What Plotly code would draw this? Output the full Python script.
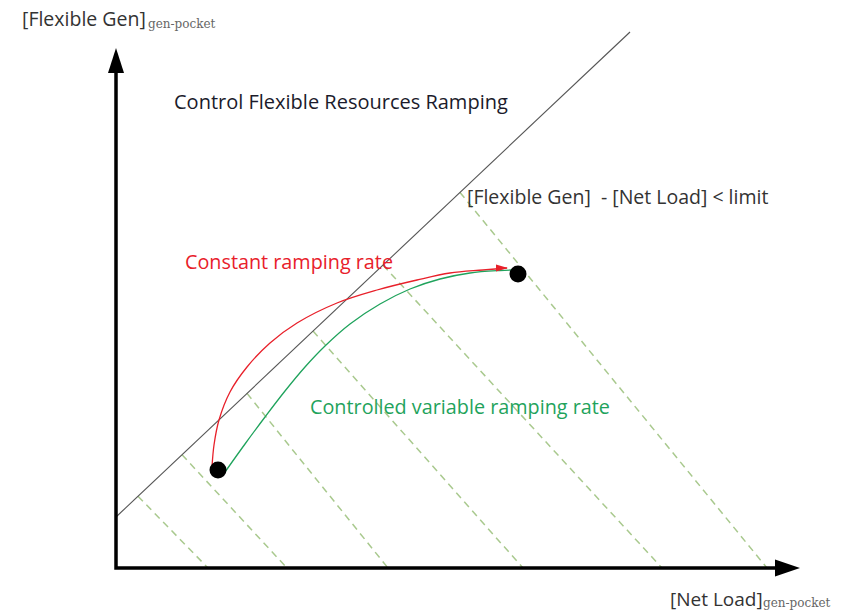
import plotly.graph_objects as go

# ---- data (arbitrary units: Net Load on x, Flexible Gen on y) ----
x_axis_end = 6.84
y_axis_end = 5.20

diag_x = [0.0, 5.14]
diag_y = [0.51, 5.36]

dash_start_x = [0.22, 0.66, 1.31, 1.97, 2.67, 3.44]
dash_end_x = [0.92, 1.71, 2.72, 4.07, 5.46, 6.51]

red_x = [0.96, 0.98, 1.03, 1.14, 1.31, 1.54, 1.81, 2.21, 2.61, 3.01, 3.34, 3.67, 3.91]
red_y = [1.01, 1.23, 1.48, 1.76, 2.01, 2.25, 2.45, 2.65, 2.78, 2.88, 2.95, 2.98, 3.00]

green_x = [1.09, 1.29, 1.49, 1.69, 1.89, 2.09, 2.34, 2.64, 2.94, 3.24, 3.54, 3.84, 3.96]
green_y = [0.96, 1.24, 1.51, 1.77, 2.01, 2.22, 2.44, 2.64, 2.79, 2.89, 2.95, 2.975, 2.98]

dot_x = [1.02, 4.02]
dot_y = [0.98, 2.94]

# ---- figure ----
fig = go.Figure()

slope = (diag_y[1] - diag_y[0]) / (diag_x[1] - diag_x[0])
for sx, ex in zip(dash_start_x, dash_end_x):
    sy = diag_y[0] + slope * sx
    fig.add_trace(go.Scatter(x=[sx, ex], y=[sy, 0], mode="lines",
                             line=dict(color="#a9c98e", width=1.5, dash="7px,5px"),
                             hoverinfo="skip"))

fig.add_trace(go.Scatter(x=diag_x, y=diag_y, mode="lines",
                         line=dict(color="#555555", width=1.1), hoverinfo="skip"))

fig.add_trace(go.Scatter(x=red_x, y=red_y, mode="lines", line_shape="spline",
                         line=dict(color="#e8202a", width=1.3), hoverinfo="skip"))
fig.add_trace(go.Scatter(x=green_x, y=green_y, mode="lines", line_shape="spline",
                         line=dict(color="#1fa35c", width=1.3), hoverinfo="skip"))

fig.add_trace(go.Scatter(x=dot_x, y=dot_y, mode="markers",
                         marker=dict(color="black", size=17), hoverinfo="skip"))

# axes lines
fig.add_trace(go.Scatter(x=[0, 0, x_axis_end - 0.2], y=[y_axis_end - 0.2, 0, 0], mode="lines",
                         line=dict(color="black", width=3.5), hoverinfo="skip"))

shapes = [
    dict(type="path", xref="x", yref="y", xsizemode="pixel", ysizemode="pixel",
         xanchor=0, yanchor=y_axis_end, path="M0,0 L-8,-25 L8,-25 Z",
         fillcolor="black", line=dict(width=0)),
    dict(type="path", xref="x", yref="y", xsizemode="pixel", ysizemode="pixel",
         xanchor=x_axis_end, yanchor=0, path="M0,0 L-25,8.5 L-25,-8.5 Z",
         fillcolor="black", line=dict(width=0)),
    dict(type="path", xref="x", yref="y", xsizemode="pixel", ysizemode="pixel",
         xanchor=red_x[-1], yanchor=red_y[-1], path="M1,0 L-11,3.5 L-11,-3.5 Z",
         fillcolor="#e8202a", line=dict(width=0)),
]

font_family = "Open Sans"
ann = [
    dict(x=0.56, y=4.67, text="Control Flexible Resources Ramping",
         font=dict(size=20, color="#1b1b2b", family=font_family)),
    dict(x=3.49, y=3.72, text="[Flexible Gen]  - [Net Load] < limit",
         font=dict(size=19.5, color="#333333", family=font_family)),
    dict(x=0.67, y=3.07, text="Constant ramping rate",
         font=dict(size=19.8, color="#e8202a", family=font_family)),
    dict(x=1.92, y=1.62, text="Controlled variable ramping rate",
         font=dict(size=19.8, color="#1fa35c", family=font_family)),
    dict(x=-0.96, y=5.50, text="[Flexible Gen]",
         font=dict(size=19.5, color="#333333", family=font_family)),
    dict(x=0.30, y=5.44, text="gen-pocket",
         font=dict(size=12, color="#666666", family="DejaVu Serif")),
    dict(x=5.52, y=-0.31, text="[Net Load]",
         font=dict(size=19, color="#333333", family=font_family)),
    dict(x=6.45, y=-0.35, text="gen-pocket",
         font=dict(size=12, color="#666666", family="DejaVu Serif")),
]
for a in ann:
    a.update(xref="x", yref="y", xanchor="left", yanchor="middle", showarrow=False)

fig.update_layout(
    width=843, height=611,
    margin=dict(l=0, r=0, t=0, b=0),
    paper_bgcolor="white", plot_bgcolor="white",
    showlegend=False,
    xaxis=dict(range=[-1.16, 7.27], visible=False, fixedrange=True),
    yaxis=dict(range=[-0.43, 5.68], visible=False, fixedrange=True),
    shapes=shapes,
    annotations=ann,
)

fig.write_html("out.html", config={"displayModeBar": False},
               post_script="document.body.style.margin='0px';")
